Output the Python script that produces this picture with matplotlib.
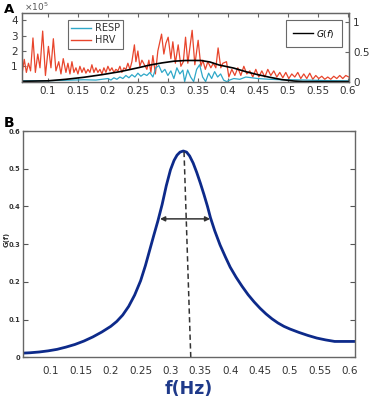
import matplotlib
matplotlib.use("Agg")
import matplotlib.pyplot as plt
from matplotlib.lines import Line2D

# ---------------- Panel A data (HRV/RESP in units of 1e5, G(f) on right axis) ----------------
hrv_f = [0.0567, 0.0605, 0.064, 0.0675, 0.071, 0.075, 0.079, 0.083, 0.0867, 0.0912, 0.0958,
         0.1008, 0.105, 0.109, 0.1133, 0.118, 0.1217, 0.1255, 0.13, 0.1333, 0.1367, 0.14,
         0.1433, 0.1467, 0.15, 0.1533, 0.1567, 0.16, 0.1633, 0.1667, 0.17, 0.1733, 0.1767,
         0.18, 0.1833, 0.1867, 0.19, 0.1933, 0.1967, 0.2, 0.2033, 0.2067, 0.21, 0.2133,
         0.2167, 0.22, 0.2233, 0.2267, 0.23, 0.2333, 0.2367, 0.24, 0.2442, 0.2467, 0.25,
         0.2533, 0.2567, 0.2608, 0.265, 0.2683, 0.2717, 0.275, 0.2792, 0.2833, 0.2895,
         0.2933, 0.2967, 0.3005, 0.305, 0.3083, 0.3125, 0.3172, 0.3217, 0.3258, 0.3295,
         0.3333, 0.3367, 0.3405, 0.345, 0.3505, 0.355, 0.3583, 0.3625, 0.3667, 0.3717,
         0.3758, 0.38, 0.3838, 0.3883, 0.3917, 0.3978, 0.4017, 0.4067, 0.4117, 0.4167,
         0.4217, 0.4267, 0.4317, 0.4367, 0.4417, 0.4467, 0.4517, 0.4567, 0.4617, 0.4667,
         0.4717, 0.4767, 0.4817, 0.4867, 0.4917, 0.4967, 0.5017, 0.5067, 0.5117, 0.5167,
         0.5217, 0.5267, 0.5317, 0.5367, 0.5417, 0.5467, 0.5517, 0.5567, 0.5617, 0.5667,
         0.5717, 0.5767, 0.5817, 0.5867, 0.5917, 0.5967, 0.6017]
hrv_v = [0.5, 1.45, 0.6, 1.2, 0.7, 2.85, 0.6, 1.8, 0.9, 3.3, 0.4,
         2.3, 0.9, 2.8, 0.7, 1.3, 0.5, 1.5, 0.6, 1.2, 0.5, 1.3,
         0.6, 0.9, 0.5, 1.0, 0.6, 0.9, 0.55, 0.8, 0.6, 1.1, 0.6,
         0.9, 0.6, 0.8, 0.5, 0.9, 0.6, 1.0, 0.7, 0.9, 0.6, 0.8,
         0.7, 1.0, 0.6, 0.9, 0.8, 1.2, 0.8, 1.3, 2.4, 1.3, 2.0,
         1.0, 1.4, 1.1, 0.8, 1.4, 0.6, 1.7, 0.5, 2.0, 3.1,
         1.8, 2.5, 2.9, 1.5, 2.6, 1.2, 2.4, 1.0, 1.3, 2.9,
         1.2, 2.2, 3.35, 1.1, 2.7, 1.0, 1.4, 0.8, 1.3, 0.9,
         1.2, 0.9, 2.2, 0.9, 1.2, 1.3, 0.3, 0.8, 0.4, 0.9,
         0.4, 1.0, 0.5, 0.7, 0.3, 0.8, 0.3, 0.7, 0.3, 0.8,
         0.4, 0.7, 0.3, 0.6, 0.25, 0.6, 0.2, 0.5, 0.3, 0.6,
         0.2, 0.5, 0.2, 0.55, 0.15, 0.4, 0.2, 0.35, 0.15, 0.3,
         0.15, 0.35, 0.2, 0.4, 0.2, 0.4, 0.3]

resp_f = [0.057, 0.08, 0.10, 0.12, 0.14, 0.16, 0.18, 0.19, 0.20, 0.205, 0.21, 0.215, 0.22,
          0.225, 0.23, 0.235, 0.24, 0.245, 0.25, 0.255, 0.26, 0.265, 0.27, 0.275, 0.28,
          0.285, 0.29, 0.295, 0.30, 0.305, 0.31, 0.315, 0.32, 0.325, 0.328, 0.333, 0.338,
          0.343, 0.348, 0.353, 0.358, 0.363, 0.368, 0.373, 0.378, 0.383, 0.388, 0.393,
          0.398, 0.403, 0.41, 0.42, 0.43, 0.44, 0.45, 0.47, 0.49, 0.51, 0.53, 0.55, 0.57, 0.60]
resp_v = [0.05, 0.05, 0.06, 0.08, 0.1, 0.12, 0.1, 0.15, 0.2, 0.1, 0.25, 0.15, 0.3,
          0.2, 0.4, 0.25, 0.45, 0.3, 0.55, 0.35, 0.5, 0.4, 0.6, 0.3, 0.9,
          1.05, 0.6, 0.8, 0.4, 0.7, 0.2, 0.9, 0.5, 0.75, 0.0, 0.76, 0.3,
          0.0, 0.8, 1.1, 0.3, 0.0, 0.55, 0.2, 0.65, 0.3, 0.5, 0.1,
          0.0, 0.1, 0.2, 0.15, 0.3, 0.25, 0.2, 0.15, 0.12, 0.12, 0.1, 0.08, 0.06, 0.05]

gA_f = [0.057, 0.10, 0.13, 0.16, 0.19, 0.22, 0.25, 0.27, 0.29, 0.31, 0.33, 0.355, 0.37,
        0.385, 0.41, 0.43, 0.45, 0.47, 0.49, 0.51, 0.525, 0.602]
gA_v = [0.005, 0.013, 0.039, 0.073, 0.117, 0.168, 0.233, 0.280, 0.316, 0.345, 0.357, 0.357,
        0.332, 0.282, 0.228, 0.168, 0.117, 0.073, 0.034, 0.010, 0.0, 0.0]

xticksA = [0.1, 0.15, 0.2, 0.25, 0.3, 0.35, 0.4, 0.45, 0.5, 0.55, 0.6]
xticklabelsA = ['0.1', '0.15', '0.2', '0.25', '0.3', '0.35', '0.4', '0.45', '0.5', '0.55', '0.6']

# ---------------- Panel B data ----------------
gB_f = [0.053, 0.065, 0.080, 0.095, 0.110, 0.125, 0.140, 0.155, 0.170, 0.185, 0.200,
        0.210, 0.220, 0.230, 0.240, 0.250, 0.258, 0.265, 0.272, 0.279, 0.286, 0.293,
        0.300, 0.306, 0.311, 0.316, 0.3215, 0.327, 0.332, 0.338, 0.344, 0.350, 0.356,
        0.362, 0.367, 0.374, 0.383, 0.392, 0.400, 0.410, 0.420, 0.430, 0.440, 0.450,
        0.460, 0.470, 0.480, 0.490, 0.500, 0.515, 0.530, 0.545, 0.560, 0.575, 0.609]
gB_v = [0.011, 0.012, 0.014, 0.017, 0.021, 0.027, 0.034, 0.043, 0.054, 0.067, 0.082,
        0.095, 0.112, 0.135, 0.165, 0.203, 0.243, 0.283, 0.323, 0.362, 0.405, 0.455,
        0.497, 0.522, 0.536, 0.544, 0.547, 0.544, 0.534, 0.515, 0.490, 0.462, 0.432,
        0.400, 0.370, 0.336, 0.298, 0.266, 0.239, 0.212, 0.188, 0.166, 0.147, 0.130,
        0.115, 0.102, 0.091, 0.082, 0.075, 0.066, 0.058, 0.051, 0.046, 0.042, 0.042]

peak_f_top, peak_g = 0.3227, 0.545
peak_f_bottom = 0.334
half_left, half_right, half_level = 0.2825, 0.3665, 0.367

xticksB = [0.1, 0.15, 0.2, 0.25, 0.3, 0.35, 0.4, 0.45, 0.5, 0.55, 0.6]
xticklabelsB = ['0.1', '0.15', '0.2', '0.25', '0.3', '0.35', '0.4', '0.45', '0.5', '0.55', '0.6']
markticksB = [0.2, 0.35, 0.5]
yticksB = [0, 0.1, 0.2, 0.3, 0.4, 0.5, 0.6]

# ---------------- Figure ----------------
fig = plt.figure(figsize=(3.69, 4.0), dpi=100)
fig.patch.set_facecolor('white')

SPINE = '#666666'
TXT = '#333333'

# Panel A
axA = fig.add_axes([0.0596, 0.796, 0.886, 0.1715])
axA.plot(hrv_f, hrv_v, color='#e8452c', lw=0.9)
axA.plot(resp_f, resp_v, color='#2fa8c8', lw=0.9)
axA.set_xlim(0.0567, 0.602)
axA.set_ylim(0, 4.48)
axA.set_xticks(xticksA)
axA.set_xticklabels(xticklabelsA)
axA.set_yticks([1, 2, 3, 4])
axA.set_yticklabels(['1', '2', '3', '4'])
axA.tick_params(direction='in', length=3, color=SPINE, labelsize=7.5, labelcolor=TXT,
                top=True, pad=3)
axA.tick_params(axis='y', pad=3)
for s in axA.spines.values():
    s.set_color(SPINE)
    s.set_linewidth(0.9)
axA.text(0.005, 1.0, r'$\times10^5$', transform=axA.transAxes, fontsize=6.5,
         color='#555555', ha='left', va='bottom')

axA2 = axA.twinx()
axA2.plot(gA_f, gA_v, color='black', lw=1.2)
axA2.set_ylim(0, 1.16)
axA2.set_yticks([0, 0.5, 1])
axA2.set_yticklabels(['0', '0.5', '1'])
axA2.tick_params(direction='in', length=3, color=SPINE, labelsize=7.5, labelcolor=TXT, pad=3)
for s in axA2.spines.values():
    s.set_color(SPINE)
    s.set_linewidth(0.9)

h1 = Line2D([], [], color='#2fa8c8', lw=1.0)
h2 = Line2D([], [], color='#e8452c', lw=1.0)
legL = axA.legend([h1, h2], ['RESP', 'HRV'], loc='upper left',
                  bbox_to_anchor=(0.141, 0.90), fontsize=7, frameon=True, fancybox=False,
                  edgecolor='#444444', handlelength=2.0, handletextpad=0.4,
                  borderpad=0.35, labelspacing=0.2, borderaxespad=0)
legL.get_frame().set_linewidth(0.8)
for t in legL.get_texts():
    t.set_color(TXT)

h3 = Line2D([], [], color='black', lw=1.0)
legR = axA2.legend([h3], [r'$G(f)$'], loc='upper right',
                   bbox_to_anchor=(0.979, 0.90), fontsize=6.5, frameon=True, fancybox=False,
                   edgecolor='#444444', handlelength=2.2, handletextpad=0.3,
                   borderpad=0.85, borderaxespad=0)
legR.get_frame().set_linewidth(0.8)

fig.text(0.01, 0.992, 'A', fontsize=9.5, fontweight='bold', ha='left', va='top')

# Panel B
axB = fig.add_axes([0.0623, 0.1068, 0.8997, 0.5657])
axB.plot(gB_f, gB_v, color='#0d2a8a', lw=2.0, solid_capstyle='round', solid_joinstyle='round')
axB.plot([peak_f_top, peak_f_bottom], [peak_g, 0], color='#333333', lw=1.1,
         linestyle=(0, (3.5, 2.2)))
axB.annotate('', xy=(half_left, half_level), xytext=(half_right, half_level),
             arrowprops=dict(arrowstyle='<|-|>', color='#333333', lw=1.1,
                             mutation_scale=7, shrinkA=0, shrinkB=0))
axB.set_xlim(0.053, 0.609)
axB.set_ylim(0, 0.6)
axB.set_xticks(xticksB)
axB.set_xticklabels(xticklabelsB)
axB.set_xticks(markticksB, minor=True)
axB.tick_params(axis='x', which='major', length=0, labelsize=7.5, labelcolor=TXT, pad=6)
axB.tick_params(axis='x', which='minor', direction='in', length=4, width=1.0,
                color='#444444', top=True, bottom=True)
axB.set_yticks(yticksB)
axB.set_yticklabels(['0', '0.1', '0.2', '0.3', '0.4', '0.5', '0.6'])
axB.tick_params(axis='y', direction='in', length=3.5, color='#555555', right=True,
                labelsize=4.8, labelcolor=TXT, pad=2)
for t in axB.get_yticklabels():
    t.set_fontweight('bold')
for s in axB.spines.values():
    s.set_color(SPINE)
    s.set_linewidth(1.0)
axB.set_ylabel('G(f)', fontsize=5, fontweight='bold', color=TXT, labelpad=1)
axB.yaxis.set_label_coords(-0.04, 0.52)
axB.set_xlabel('f(Hz)', fontsize=12.5, fontweight='bold', color='#1f3a8a', labelpad=3)

fig.text(0.01, 0.71, 'B', fontsize=10, fontweight='bold', ha='left', va='top')

fig.savefig('out.png', dpi=100, facecolor='white')
